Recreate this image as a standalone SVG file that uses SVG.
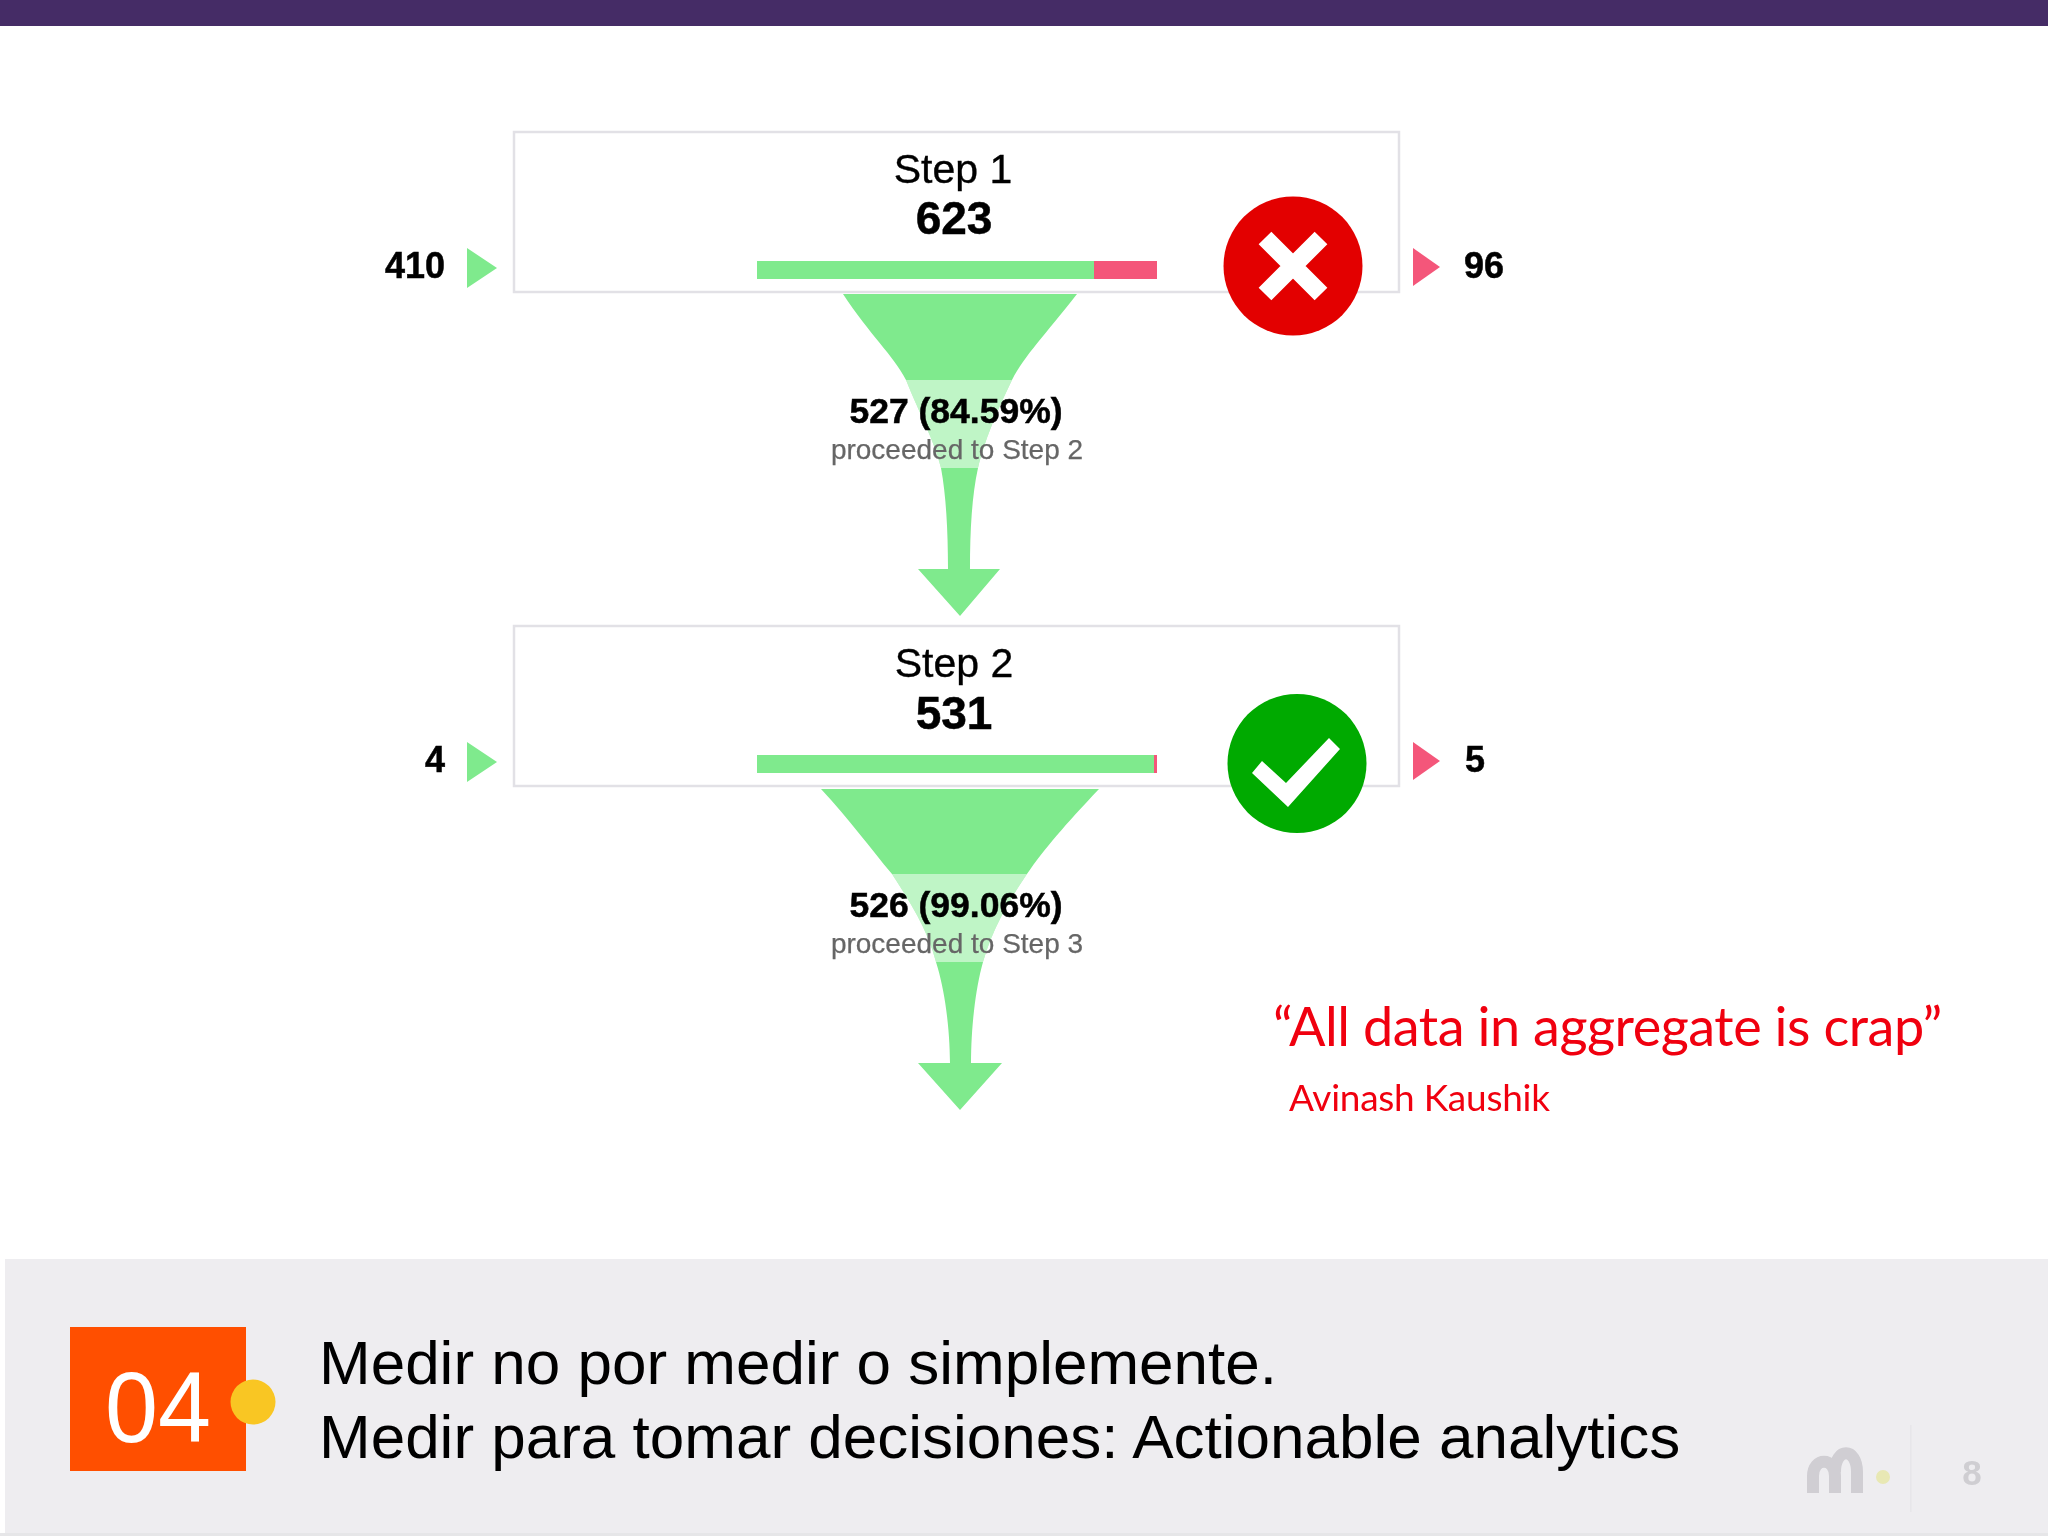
<svg xmlns="http://www.w3.org/2000/svg" width="2048" height="1536" viewBox="0 0 2048 1536">
<defs>
<style>
.a{font-family:"Liberation Sans",Arial,sans-serif}
.b{font-weight:700;fill:#000;stroke:#000;stroke-width:.5}
.d{fill:#000;stroke:#000;stroke-width:.35}
.s{fill:#666;stroke:#666;stroke-width:.25}
.box{fill:#fff;stroke:#e2e1e6;stroke-width:2.5}
.g{fill:#7fea8d}
.lt{fill:#fff;fill-opacity:.5}
.p{fill:#f4577a}
.q{font-family:Lato,"Open Sans",sans-serif;fill:#f0000f}
</style>
<filter id="soft" x="-5%" y="-5%" width="110%" height="110%"><feGaussianBlur stdDeviation="0.5"/></filter>
<clipPath id="c1"><path d="M843 294H1077C1045 335 1025 355 1012 380C995 415 985 440 978 468C972 495 970 530 970 569H948C948 530 946 495 941 468C934 440 920 415 906 380C893 355 870 335 843 294Z"/></clipPath>
<clipPath id="c2"><path d="M821 789H1099C1065 825 1045 848 1027 874C1008 902 992 930 983 962C975 990 971 1030 971 1063H950C950 1030 945 990 936 962C928 930 910 902 892 874C870 848 850 820 821 789Z"/></clipPath>
</defs>
<rect width="2048" height="1536" fill="#fff"/>
<rect id="topbar" width="2048" height="26" fill="#452c66"/>
<g filter="url(#soft)">
<g id="connectors">
<path id="funnel1" class="g" d="M843 294H1077C1045 335 1025 355 1012 380C995 415 985 440 978 468C972 495 970 530 970 569H1000L960 616L918 569H948C948 530 946 495 941 468C934 440 920 415 906 380C893 355 870 335 843 294Z"/>
<rect class="lt" x="880" y="380" width="160" height="88" clip-path="url(#c1)"/>
<path id="funnel2" class="g" d="M821 789H1099C1065 825 1045 848 1027 874C1008 902 992 930 983 962C975 990 971 1030 971 1063H1002L960 1110L918 1063H950C950 1030 945 990 936 962C928 930 910 902 892 874C870 848 850 820 821 789Z"/>
<rect class="lt" x="860" y="874" width="200" height="88" clip-path="url(#c2)"/>
</g>
<g id="step1">
<rect class="box" x="514" y="132" width="885" height="160"/>
<text class="a d" x="953" y="183" font-size="41" text-anchor="middle">Step 1</text>
<text class="a b" x="954" y="234" font-size="46" text-anchor="middle">623</text>
<rect class="g" x="757" y="261" width="337" height="18"/>
<rect class="p" x="1094" y="261" width="63" height="18"/>
<polygon class="g" points="467,248 497,268 467,288"/>
<polygon class="p" points="1413,248 1440,267 1413,286"/>
<text class="a b" x="445" y="278" font-size="36" text-anchor="end">410</text>
<text class="a b" x="1464" y="278" font-size="36">96</text>
</g>
<g id="flow1-label">
<text class="a b" x="956" y="423" font-size="35.5" text-anchor="middle">527 (84.59%)</text>
<text class="a s" x="957" y="459" font-size="28" text-anchor="middle">proceeded to Step 2</text>
</g>
<g id="step2">
<rect class="box" x="514" y="626" width="885" height="160"/>
<text class="a d" x="954" y="677" font-size="41" text-anchor="middle">Step 2</text>
<text class="a b" x="954" y="729" font-size="46" text-anchor="middle">531</text>
<rect class="g" x="757" y="755" width="397" height="18"/>
<rect class="p" x="1154" y="755" width="3" height="18"/>
<polygon class="g" points="467,742 497,762 467,782"/>
<polygon class="p" points="1413,742 1440,761 1413,780"/>
<text class="a b" x="445" y="772" font-size="36" text-anchor="end">4</text>
<text class="a b" x="1465" y="772" font-size="36">5</text>
</g>
<g id="flow2-label">
<text class="a b" x="956" y="917" font-size="35.5" text-anchor="middle">526 (99.06%)</text>
<text class="a s" x="957" y="953" font-size="28" text-anchor="middle">proceeded to Step 3</text>
</g>
<g id="badge-x">
<circle cx="1293" cy="266" r="69.5" fill="#e30000"/>
<path d="M1265 238L1321 294M1321 238L1265 294" stroke="#fff" stroke-width="18" fill="none"/>
</g>
<g id="badge-check">
<circle cx="1297" cy="763.5" r="69.5" fill="#00aa00"/>
<polygon points="1252,773 1262,761 1286,783 1329,738 1340,749 1288,807" fill="#fff"/>
</g>
</g>
<g id="quote">
<text class="q" x="1273" y="1046" font-size="54" letter-spacing="-.45">“All data in aggregate is crap”</text>
<text class="q" x="1289" y="1111" font-size="37" letter-spacing="-.25">Avinash Kaushik</text>
</g>
<g id="footer">
<rect x="5" y="1259" width="2043" height="274" fill="#eeedf0"/>
<rect y="1533" width="2048" height="3" fill="#e6e6e8"/>
<rect x="70" y="1327" width="176" height="144" fill="#ff4f00"/>
<text class="a" x="105" y="1442" font-size="100" textLength="106" lengthAdjust="spacingAndGlyphs" fill="#fff">04</text>
<circle cx="253" cy="1402" r="22.5" fill="#f9c623"/>
<text class="a" x="319" y="1384" font-size="62" fill="#000">Medir no por medir o simplemente.</text>
<text class="a" x="319" y="1458" font-size="62" fill="#000">Medir para tomar decisiones: Actionable analytics</text>
<g filter="url(#soft)">
<path d="M1813 1493V1476C1813 1457 1835 1457 1835 1476V1493M1835 1472C1835 1447 1857 1447 1857 1472V1493" stroke="#d0ced3" stroke-width="12" fill="none"/>
<circle cx="1883" cy="1477" r="7" fill="#e8e8b4"/>
<rect x="1910" y="1425" width="1.5" height="87" fill="#e7e6ea"/>
<text class="a" x="1972" y="1485" font-size="35" font-weight="700" text-anchor="middle" fill="#cfced2">8</text>
</g>
</g>
</svg>
